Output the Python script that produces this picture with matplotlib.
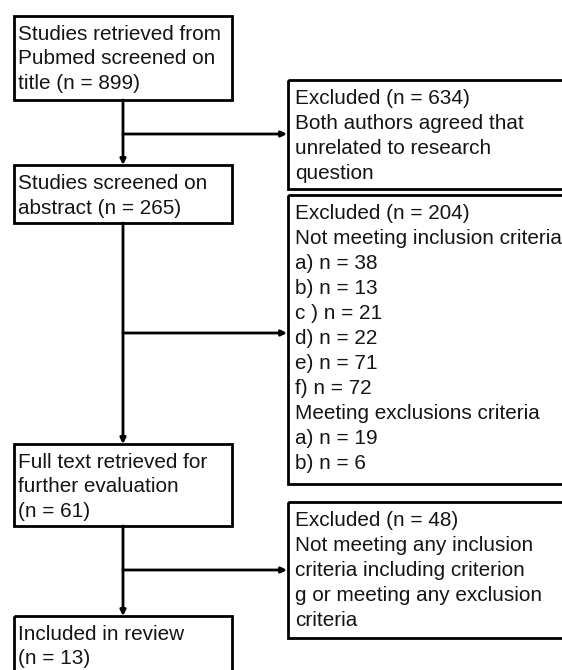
import matplotlib.pyplot as plt
from matplotlib.patches import Rectangle

plt.rcParams['font.family'] = ['Liberation Sans', 'DejaVu Sans']

# flow steps (left column) and exclusions (right column)
main_steps = [
    ["Studies retrieved from", "Pubmed screened on", "title (n = 899)"],
    ["Studies screened on", "abstract (n = 265)"],
    ["Full text retrieved for", "further evaluation", "(n = 61)"],
    ["Included in review", "(n = 13)"],
]
excluded = [
    ["Excluded (n = 634)", "Both authors agreed that",
     "unrelated to research", "question"],
    ["Excluded (n = 204)", "Not meeting inclusion criteria",
     "a) n = 38", "b) n = 13", "c ) n = 21", "d) n = 22", "e) n = 71",
     "f) n = 72", "Meeting exclusions criteria", "a) n = 19", "b) n = 6"],
    ["Excluded (n = 48)", "Not meeting any inclusion",
     "criteria including criterion", "g or meeting any exclusion",
     "criteria"],
]

# box geometry in pixels (top, bottom)
left_boxes = [(16, 100), (165, 223), (444, 526), (616, 700)]
right_boxes = [(80, 189), (195, 484), (502, 638)]
branch_y = [134, 333, 570]
LX0, LX1 = 14, 232
RX0, RX1 = 288, 600
CX = 123

fig = plt.figure(figsize=(5.62, 6.70), dpi=100)
ax = fig.add_axes([0, 0, 1, 1])
ax.set_xlim(0, 562)
ax.set_ylim(670, 0)
ax.axis('off')


def draw_box(x0, x1, top, bottom, lines, tx, spacing=25):
    ax.add_patch(Rectangle((x0, top), x1 - x0, bottom - top, fill=False,
                           lw=2.0, ec='black', clip_on=True))
    for i, s in enumerate(lines):
        ax.text(tx, top + 24 + i * spacing, s, fontsize=14.95,
                va='baseline', ha='left', color='#151515')


for (top, bottom), lines in zip(left_boxes, main_steps):
    draw_box(LX0, LX1, top, bottom, lines, 18, spacing=24.5)
for (top, bottom), lines in zip(right_boxes, excluded):
    draw_box(RX0, RX1, top, bottom, lines, 295)

arrow = dict(arrowstyle='-|>', lw=2.0, color='black',
             mutation_scale=8, shrinkA=0, shrinkB=0)
for i, y in enumerate(branch_y):
    top = left_boxes[i][1]
    nxt = left_boxes[i + 1][0]
    ax.annotate('', xy=(CX, nxt), xytext=(CX, top), arrowprops=arrow)
    ax.annotate('', xy=(RX0 - 1, y), xytext=(CX, y), arrowprops=arrow)

plt.savefig('out.png', dpi=100)
